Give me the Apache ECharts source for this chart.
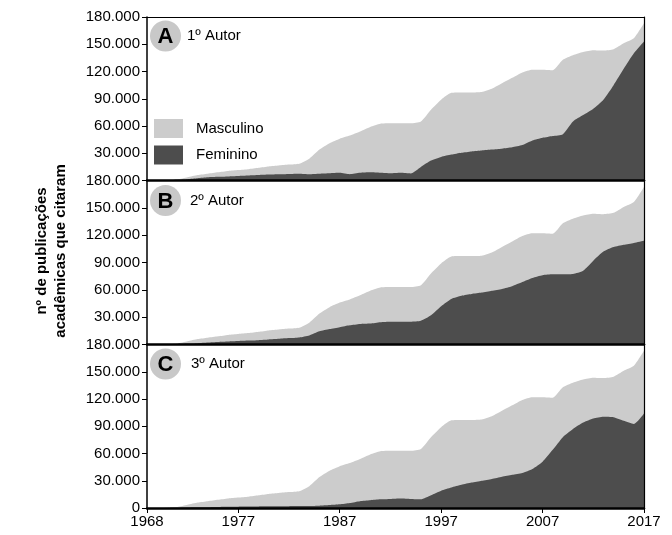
<!DOCTYPE html>
<html>
<head>
<meta charset="utf-8">
<script src="https://cdn.jsdelivr.net/npm/echarts@6/dist/echarts.min.js"></script>
<style>
html,body{margin:0;padding:0;background:#fff;}
#chart{width:672px;height:535px;}
</style>
</head>
<body>
<div id="chart"></div>
<script>
// ---- Data ----
var years = [1968,1969,1970,1971,1972,1973,1974,1975,1976,1977,1978,1979,1980,1981,1982,1983,1984,1985,1986,1987,1988,1989,1990,1991,1992,1993,1994,1995,1996,1997,1998,1999,2000,2001,2002,2003,2004,2005,2006,2007,2008,2009,2010,2011,2012,2013,2014,2015,2016,2017];

// total de publicações (Masculino + Feminino): upper edge of the light area
var total = [0,0,300,1000,3500,6000,7500,9000,10500,11500,12500,14000,15500,16500,17500,18500,24000,34000,41000,46000,49500,54000,59000,62500,63000,63000,63000,65000,78000,89000,96500,97000,97000,97500,101000,107000,113000,119000,122000,122000,121500,133000,138000,141500,143500,143000,144500,151000,156500,173000];

// Feminino por posição de autoria
var femininoA = [0,0,300,800,1500,2500,3500,4000,4500,5000,5500,6000,6500,6800,7200,7500,7000,7500,8000,8500,7000,8500,9000,8500,8000,8500,7800,15000,22000,26000,28500,30500,32000,33000,34000,35000,36500,39000,44000,47000,49000,51000,65000,72000,79000,89000,105000,123000,140000,153000];
var femininoB = [0,0,300,600,1000,1500,2200,2800,3300,3800,4300,4800,5500,6200,7000,7800,10000,14500,17000,19000,21000,22500,23000,24500,25000,25000,25000,26000,32000,42000,50000,53500,55500,57000,59000,61000,64000,68500,73000,76000,77000,77000,77500,81000,92000,102000,107000,109500,111500,114000];
var femininoC = [0,0,100,300,500,700,900,1100,1300,1500,1600,1700,1800,1900,2000,2100,2200,2500,3200,4000,5500,7500,8500,9500,10000,10500,10000,9500,14000,19000,22500,25500,28000,30000,32000,34500,36500,38500,43000,51000,64000,78000,87000,94000,98500,100500,100000,96000,92500,104000];

var xTicks = [1968,1977,1987,1997,2007,2017];
var yMax = 180000, yStep = 30000;
var panelLetters = ['A','B','C'];
var panelTitles = ['1º Autor','2º Autor','3º Autor'];
var femSets = [femininoA, femininoB, femininoC];

// ---- Style ----
var FONT = 'Liberation Sans, Arial, Helvetica, sans-serif';
var LIGHT = '#cccccc', DARK = '#4d4d4d';
var gridTops = [17, 180.5, 344.5];
var gridH = [163.5, 164, 163.5];

function fmt(v){ return String(v).replace(/\B(?=(\d{3})+(?!\d))/g,'.'); }

var grids=[], xAxes=[], yAxes=[], series=[];
var totalData = years.map(function(y,k){ return [y, total[k]]; });
for (var i=0;i<3;i++){
  grids.push({left:147, right:28, top:gridTops[i], height:gridH[i], show:false});
  var last = (i===2);
  xAxes.push({
    type:'value', gridIndex:i, min:1968, max:2017, z:5,
    axisLine:{show:true, lineStyle:{color:'#000', width:2.5}},
    axisTick:{show:last, length:5, lineStyle:{color:'#000', width:1}, customValues: xTicks},
    axisLabel:{show:last, fontSize:15, color:'#000', fontFamily:FONT, margin:6, customValues: xTicks, formatter:function(v){return String(v);}},
    splitLine:{show:false}
  });
  xAxes.push({
    type:'value', gridIndex:i, position:'top', min:1968, max:2017, z:5,
    axisLine:{show:true, onZero:false, lineStyle:{color:'#000', width:1.2}},
    axisTick:{show:false}, axisLabel:{show:false}, splitLine:{show:false}
  });
  yAxes.push({
    type:'value', gridIndex:i, min:0, max:yMax, interval:yStep, z:5,
    axisLine:{show:true, onZero:false, lineStyle:{color:'#000', width:1.5}},
    axisTick:{show:true, length:5, lineStyle:{color:'#000', width:1}},
    axisLabel:{fontSize:15, color:'#000', fontFamily:FONT, margin:7, showMinLabel: last, formatter:fmt},
    splitLine:{show:false}
  });
  yAxes.push({
    type:'value', gridIndex:i, position:'right', min:0, max:yMax, z:5,
    axisLine:{show:true, onZero:false, lineStyle:{color:'#000', width:1.2}},
    axisTick:{show:false}, axisLabel:{show:false}, splitLine:{show:false}
  });

  var fem = femSets[i];
  var femData = years.map(function(y,k){ return [y, fem[k]]; });
  series.push({
    name:'Masculino', type:'line', xAxisIndex:2*i, yAxisIndex:2*i,
    data:totalData, symbol:'none', smooth:0.2, color:LIGHT,
    lineStyle:{width:0}, itemStyle:{color:LIGHT}, areaStyle:{color:LIGHT, opacity:1}, z:1
  });
  series.push({
    name:'Feminino', type:'line', xAxisIndex:2*i, yAxisIndex:2*i,
    data:femData, symbol:'none', smooth:0.2, color:DARK,
    lineStyle:{width:0}, itemStyle:{color:DARK}, areaStyle:{color:DARK, opacity:1}, z:2
  });
}

var circleCenters = [[165.5,36],[165.5,200.5],[165.5,364]];
var titleX = [187, 190, 191];
var graphics = [];
for (var j=0;j<3;j++){
  graphics.push({type:'circle', shape:{cx:circleCenters[j][0], cy:circleCenters[j][1], r:15.5}, style:{fill:'#c8c8c8'}, z:20});
  graphics.push({type:'text', x:circleCenters[j][0], y:circleCenters[j][1]+1, style:{text:panelLetters[j], fill:'#000', font:'bold 22px '+FONT, textAlign:'center', textVerticalAlign:'middle'}, z:21});
  graphics.push({type:'text', x:titleX[j], y:circleCenters[j][1], style:{text:panelTitles[j], fill:'#000', font:'15px '+FONT, textAlign:'left', textVerticalAlign:'middle'}, z:21});
}
graphics.push({type:'text', x:51, y:251, rotation:Math.PI/2,
  style:{text:'nº de publicações\nacadêmicas que citaram', fill:'#000', font:'bold 15px '+FONT, textAlign:'center', textVerticalAlign:'middle', lineHeight:19}, z:21});

var chart = echarts.init(document.getElementById('chart'), null, {renderer:'canvas'});
chart.setOption({
  animation:false,
  backgroundColor:'#fff',
  legend:{
    data:['Masculino','Feminino'], orient:'vertical', left:154, top:119,
    itemWidth:29, itemHeight:19, itemGap:7.5, icon:'rect', padding:0,
    textStyle:{fontSize:15, color:'#000', fontFamily:FONT, padding:[0,0,0,8]},
    selectedMode:false, z:20
  },
  grid:grids, xAxis:xAxes, yAxis:yAxes, series:series, graphic:graphics
});
</script>
</body>
</html>
